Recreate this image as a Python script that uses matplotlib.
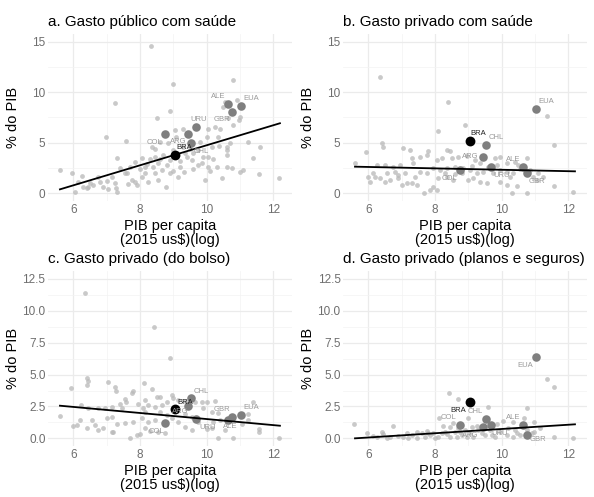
#%%############################################################################
# Gasto com saude (% do PIB) vs PIB per capita (log), quatro paineis.
###############################################################################
import numpy as np
import matplotlib.pyplot as plt

plt.rcParams['font.family'] = ['Liberation Sans', 'DejaVu Sans']

#%%############################################################################
# Dados.
###############################################################################
countries = ['BRA', 'COL', 'ARG', 'CHL', 'URU', 'ALE', 'GBR', 'EUA']
countryGdp = [9.05, 8.75, 9.45, 9.52, 9.68, 10.65, 10.75, 11.02]

# a. gasto publico
pubCountry = [3.8, 5.84, 5.9, 5.0, 6.6, 8.84, 8.05, 8.6]
pubX = [8.33, 8.98, 10.78, 7.25, 8.90, 8.51, 10.90, 10.55, 10.50, 11.00, 10.98, 10.80,
        10.63, 6.98, 7.57, 9.05, 9.28, 9.08, 8.85, 8.60, 8.35, 8.45, 10.03, 10.25,
        10.40, 10.35, 10.00, 9.80, 10.15, 10.37, 10.60, 10.60, 11.23, 11.60, 11.40,
        11.00, 11.58, 12.18, 10.75, 10.30, 10.05, 9.95, 10.45, 9.75, 9.55, 9.33, 9.20,
        9.13, 8.77, 8.90, 8.65, 8.45, 8.15, 8.05, 8.40, 8.30, 8.07, 7.85, 7.70, 7.55,
        7.40, 7.32, 7.15, 7.25, 7.27, 7.30, 7.05, 6.90, 6.75, 6.80, 6.60, 6.45, 6.40,
        6.25, 6.15, 6.05, 5.97, 5.60, 7.85, 7.90, 7.65, 7.75, 8.15, 8.25, 8.55, 8.70,
        8.45, 8.53, 8.98, 9.35, 9.60, 9.75, 9.90, 9.85, 10.05, 10.20, 10.60, 8.2, 8.6,
        8.8, 9.2, 9.4, 9.6, 7.6, 7.0, 6.5, 6.3, 8.0, 9.0, 8.9, 9.3, 9.5, 10.1, 10.6,
        10.7, 11.1]
pubY = [14.52, 10.79, 11.16, 8.98, 8.15, 7.43, 9.24, 9.08, 8.51, 7.52, 7.26, 6.77,
        7.43, 5.61, 5.21, 6.27, 6.34, 5.61, 4.95, 5.12, 4.62, 4.36, 6.37, 6.53,
        6.37, 5.61, 5.61, 5.12, 4.62, 4.69, 4.62, 4.29, 5.12, 4.62, 3.53,
        2.08, 1.91, 1.49, 2.48, 2.57, 2.57, 1.32, 1.49, 2.81, 3.30, 2.15, 2.64,
        1.65, 0.66, 1.98, 2.31, 1.98, 1.98, 1.65, 2.64, 3.37, 3.53, 3.14, 2.57, 1.98,
        2.48, 3.53, 1.65, 1.06, 0.50, 0.17, 0.40, 0.66, 1.65, 1.16, 0.83, 0.66, 0.50,
        1.72, 1.16, 0.17, 1.98, 2.31, 1.16, 0.83, 0.92, 1.32, 2.64, 1.16, 1.32, 3.80,
        3.63, 3.04, 4.29, 3.96, 3.96, 4.29, 3.63, 2.97, 3.63, 3.37, 2.64, 2.9, 3.4,
        2.8, 3.2, 3.6, 2.4, 2.0, 1.2, 1.0, 0.6, 2.4, 2.2, 3.3, 4.6, 4.4, 2.2, 3.8,
        5.0, 2.3]

# b. gasto privado
privCountry = [5.2, 2.3, 3.6, 4.8, 2.57, 2.57, 1.98, 8.35]
privX = [6.35, 8.40, 11.37, 11.58, 8.90, 8.10, 6.40, 6.43, 5.93, 7.05, 7.25, 7.78,
         7.77, 8.35, 8.45, 5.60, 6.25, 6.50, 6.75, 6.95, 7.30, 7.55, 7.35, 8.05, 8.20,
         8.50, 8.70, 8.95, 9.20, 9.35, 9.80, 9.95, 9.85, 10.15, 10.40, 10.75, 10.55,
         10.25, 9.95, 10.15, 10.30, 10.75, 10.45, 11.05, 11.25, 11.58, 12.15, 9.55,
         9.35, 9.15, 9.00, 8.80, 8.55, 8.35, 8.10, 7.95, 7.85, 7.67, 8.05, 7.45, 7.30,
         7.15, 7.00, 6.90, 6.65, 6.50, 6.35, 6.20, 6.05, 6.00, 6.15, 6.55, 6.80, 7.10,
         7.55, 7.75, 7.95, 8.15, 8.35, 8.60, 8.85, 9.05, 9.25, 9.45, 9.75, 9.95, 10.15,
         10.35, 10.95, 10.85, 11.10, 8.3, 8.6, 9.1, 9.6, 10.5, 7.4, 6.9]
privY = [11.49, 9.08, 7.66, 4.79, 6.77, 6.17, 4.95, 4.62, 4.13, 4.46, 4.29, 4.19,
         3.80, 4.29, 4.22, 3.04, 2.81, 2.81, 2.64, 2.81, 3.47, 3.63, 2.97, 3.30, 3.53,
         3.47, 3.63, 3.70, 3.30, 3.04, 3.47, 3.63, 2.81, 3.04, 3.14, 3.47, 2.38,
         1.65, 1.16, 0.83, 0.07, 0.00, 0.73, 1.32, 1.65, 0.73, 0.17, 0.99,
         1.16, 1.49, 1.32, 1.98, 1.32, 1.65, 1.49, 0.66, 0.33, 0.07, 0.33, 0.83, 0.99,
         0.99, 0.83, 1.49, 1.32, 1.16, 1.49, 1.65, 1.16, 1.65, 1.98, 1.98, 2.15, 1.98,
         2.15, 1.98, 2.48, 2.31, 2.48, 2.64, 2.48, 2.31, 1.98, 2.15, 1.98, 2.31, 2.15,
         1.98, 1.65, 2.31, 2.05, 2.0, 1.9, 2.7, 2.6, 2.8, 1.6, 1.8]

# c. gasto privado (do bolso)
oopCountry = [2.28, 1.18, 2.54, 3.14, 1.49, 1.44, 1.65, 1.83]
oopX = [6.35, 8.42, 8.90, 6.40, 6.43, 6.42, 5.93, 7.05, 7.25, 7.28, 7.78, 7.77, 8.12,
        8.35, 7.55, 7.58, 8.97, 8.98, 8.50, 8.60, 8.15, 5.60, 6.23, 6.45, 6.75, 6.95,
        7.15, 7.40, 7.45, 7.95, 8.10, 8.25, 8.65, 8.80, 9.15, 9.35, 9.65, 9.85, 10.00,
        10.25, 9.90, 10.15, 10.35, 11.40, 11.25, 11.58, 11.58, 12.18, 10.80, 10.33,
        10.55, 10.15, 10.00, 9.55, 9.35, 9.15, 8.95, 8.75, 8.55, 8.30, 8.00, 7.90,
        7.70, 8.15, 8.25, 8.45, 8.05, 7.80, 7.55, 7.30, 7.20, 7.15, 6.90, 6.75, 6.65,
        6.55, 6.40, 6.20, 6.10, 6.00, 7.00, 7.15, 8.60, 8.80, 9.35, 9.55, 9.75, 10.20,
        10.40, 11.05, 11.25, 8.45, 8.15]
oopY = [11.38, 8.76, 6.28, 4.76, 4.50, 4.18, 3.97, 4.39, 4.05, 3.71, 3.71, 3.53, 4.37,
        3.84, 3.06, 2.82, 3.40, 3.19, 3.27, 3.22, 3.01, 1.75, 2.62, 2.41, 2.35, 2.41,
        2.48, 2.67, 2.35, 2.67, 2.41, 2.62, 2.62, 2.88, 3.01, 2.93, 2.88, 2.82, 2.88,
        2.93, 2.35, 2.09, 1.96, 2.88, 1.88, 0.71, 0.52, 0.05, 0.00, 0.05,
        0.65, 0.78, 0.73, 0.65, 0.92, 1.31, 1.57, 0.39, 0.52, 0.60, 0.31, 0.26,
        0.05, 0.78, 1.31, 1.44, 1.57, 1.31, 1.18, 1.10, 0.52, 0.52, 0.78, 0.65, 1.05,
        1.44, 0.78, 1.44, 1.05, 0.99, 1.62, 1.70, 2.09, 1.83, 1.88, 1.70, 1.31, 1.31,
        1.44, 1.10, 1.44, 2.48, 2.09]

# d. gasto privado (planos e seguros)
insCountry = [2.85, 1.05, 0.92, 1.54, 1.05, 1.02, 0.24, 6.35]
insX = [11.37, 11.58, 8.42, 8.70, 8.98, 9.60, 10.77, 10.98, 10.68, 8.12, 6.75, 5.57,
        5.95, 6.15, 6.40, 6.45, 6.65, 6.90, 7.15, 7.30, 7.45, 7.60, 7.75, 7.85, 7.95,
        8.10, 8.25, 8.30, 8.45, 8.45, 8.60, 8.65, 8.80, 8.90, 9.05, 9.15, 9.30, 9.50,
        9.65, 9.85, 9.80, 10.05, 10.15, 10.35, 10.40, 10.55, 10.90, 10.98, 11.15, 11.58,
        12.15, 10.35, 10.20, 9.25, 9.10, 8.55, 8.70, 7.45, 7.05, 6.25, 6.55, 7.20, 7.70,
        8.00, 8.35, 8.75, 8.95, 9.40, 9.70, 9.95, 10.45, 10.75, 7.80, 8.20]
insY = [4.65, 4.05, 3.58, 3.06, 1.62, 2.43, 2.35, 1.31, 1.62, 1.62, 0.97, 1.12,
        0.39, 0.21, 0.52, 0.31, 0.13, 0.21, 0.39, 0.26, 0.05, 0.39, 0.58, 0.26, 0.44,
        0.13, 0.99, 0.52, 0.13, 0.92, 0.52, 0.13, 0.26, 0.65, 0.39, 0.13, 0.65, 0.26,
        0.65, 1.10, 0.13, 1.36, 0.26, 0.13, 0.65, 0.26, 0.39, 0.52, 0.84, 0.13,
        0.05, 1.31, 0.84, 0.99, 0.92, 1.18, 0.84, 0.52, 0.13, 0.13, 0.00, 0.05, 0.13,
        0.05, 0.31, 0.52, 0.13, 0.39, 0.26, 0.52, 0.39, 0.65, 0.39, 0.39]

# Retas de regressao linear (extremos)
fitX = [5.6, 12.2]
pubFit = [0.4, 6.93]
privFit = [2.64, 2.18]
oopFit = [2.56, 0.99]
insFit = [0.0, 1.1]

# Posicao dos rotulos (x, y), na ordem de countries
pubLbl = [(9.33, 4.55), (8.45, 5.05), (9.15, 5.1), (9.85, 4.1), (9.77, 7.33), (10.35, 9.57), (10.45, 7.26), (11.35, 9.34)]
privLbl = [(9.3, 5.94), (8.45, 1.49), (9.05, 3.63), (9.83, 5.54), (10.0, 1.75), (10.35, 3.37), (11.07, 1.22), (11.33, 9.08)]
oopLbl = [(9.35, 2.82), (8.5, 0.52), (9.2, 2.09), (9.85, 3.71), (10.03, 0.86), (10.7, 0.92), (10.45, 2.28), (11.35, 2.43)]
insLbl = [(8.7, 2.17), (8.4, 1.62), (9.05, 0.26), (9.2, 2.14), (9.95, 0.39), (10.35, 1.65), (11.1, -0.13), (10.7, 5.75)]

#%%############################################################################
# Plot.
###############################################################################
fig = plt.figure(figsize=(5.94, 4.97), dpi=100)

panels = [
    ('a. Gasto público com saúde', pubX, pubY, pubCountry, pubFit, pubLbl,
     [0.0813, 0.5956, 0.4096, 0.336], (-0.75, 15.75), [0, 5, 10, 15], ['0', '5', '10', '15']),
    ('b. Gasto privado com saúde', privX, privY, privCountry, privFit, privLbl,
     [0.5780, 0.5956, 0.4096, 0.336], (-0.75, 15.75), [0, 5, 10, 15], ['0', '5', '10', '15']),
    ('c. Gasto privado (do bolso)', oopX, oopY, oopCountry, oopFit, oopLbl,
     [0.0813, 0.1020, 0.4096, 0.3527], (-0.625, 13.125), [0, 2.5, 5, 7.5, 10, 12.5],
     ['0.0', '2.5', '5.0', '7.5', '10.0', '12.5']),
    ('d. Gasto privado (planos e seguros)', insX, insY, insCountry, insFit, insLbl,
     [0.5780, 0.1020, 0.4096, 0.3527], (-0.625, 13.125), [0, 2.5, 5, 7.5, 10, 12.5],
     ['0.0', '2.5', '5.0', '7.5', '10.0', '12.5']),
]

for title, px, py, cy, fy, lbl, rect, ylim, yt, ytl in panels:
    ax = fig.add_axes(rect)
    ax.set_xlim(5.25, 12.55)
    ax.set_ylim(*ylim)
    ax.set_xticks([6, 8, 10, 12])
    ax.set_xticks([7, 9, 11], minor=True)
    ax.set_yticks(yt)
    ax.set_yticklabels(ytl)
    ax.set_yticks([(yt[i] + yt[i + 1]) / 2 for i in range(len(yt) - 1)], minor=True)
    ax.grid(which='major', color='#ebebeb', linewidth=0.9)
    ax.grid(which='minor', color='#f3f3f3', linewidth=0.5)
    ax.set_axisbelow(True)
    for s in ax.spines.values():
        s.set_visible(False)
    ax.tick_params(which='both', length=0, labelsize=8.5, labelcolor='#6e6e6e', pad=2)

    ax.scatter(px, py, s=12, color='#b8b8b8', alpha=0.75, linewidths=0, zorder=2)
    ax.scatter(countryGdp[1:], cy[1:], s=38, color='#7f7f7f', linewidths=0, zorder=3)
    ax.scatter(countryGdp[:1], cy[:1], s=50, color='black', linewidths=0, zorder=4)
    ax.plot(fitX, fy, color='black', linewidth=1.3, zorder=5)
    for i, c in enumerate(countries):
        ax.text(lbl[i][0], lbl[i][1], c, fontsize=5.5, ha='center', va='center',
                color='#222222' if c == 'BRA' else '#9a9a9a', zorder=6)

    ax.set_title(title, loc='left', fontsize=11, pad=6)
    ax.set_xlabel('PIB per capita\n(2015 us$)(log)', fontsize=10.5, labelpad=2, linespacing=1.05)
    ax.set_ylabel('% do PIB', fontsize=10.5)
    ax.yaxis.set_label_coords(-0.118, 0.5)

fig.savefig('out.png', dpi=100)
